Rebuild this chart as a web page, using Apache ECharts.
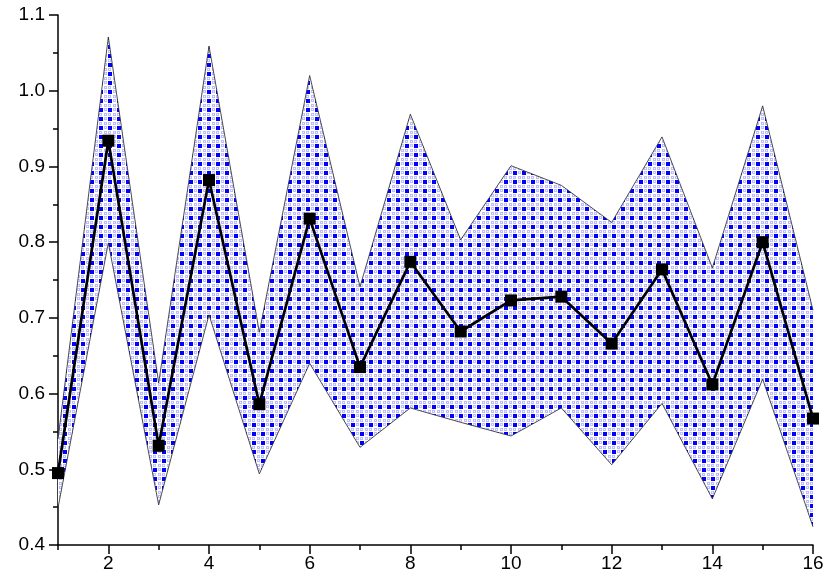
<!DOCTYPE html>
<html>
<head>
<meta charset="utf-8">
<script src="https://cdn.jsdelivr.net/npm/echarts@6/dist/echarts.min.js"></script>
<style>html,body{margin:0;padding:0;background:#fff}#c{width:830px;height:587px}</style>
</head>
<body>
<div id="c"></div>
<script>
const categories = ['1','2','3','4','5','6','7','8','9','10','11','12','13','14','15','16'];
const meanValues = [0.495, 0.934, 0.531, 0.882, 0.586, 0.831, 0.635, 0.774, 0.682, 0.723, 0.728, 0.666, 0.764, 0.612, 0.800, 0.567];
const upperValues = [0.54, 1.071, 0.614, 1.059, 0.681, 1.020, 0.741, 0.969, 0.803, 0.901, 0.875, 0.826, 0.939, 0.766, 0.980, 0.710];
const lowerValues = [0.449, 0.799, 0.453, 0.704, 0.494, 0.640, 0.529, 0.581, 0.562, 0.544, 0.581, 0.506, 0.587, 0.461, 0.619, 0.424];
const yTickLabels = ['0.4','0.5','0.6','0.7','0.8','0.9','1.0','1.1'];

// pattern tile
const tile = document.createElement('canvas');
tile.width = 9; tile.height = 9;
const g = tile.getContext('2d');
g.fillStyle = '#ffffff'; g.fillRect(0, 0, 9, 9);
g.fillStyle = '#0000ff'; g.fillRect(0, 0, 4, 4);
g.fillStyle = '#bcbcff';
function glyph(x, y) {
  g.fillRect(x, y, 3, 1); g.fillRect(x, y + 2, 3, 1);
  g.fillRect(x, y + 1, 1, 1); g.fillRect(x + 2, y + 1, 1, 1);
}
glyph(5, 0); glyph(0, 5); glyph(5, 5);

const bandValues = upperValues.map((u, i) => u - lowerValues[i]);

const chart = echarts.init(document.getElementById('c'), null, {renderer: 'canvas'});
const axisFont = {fontFamily: 'Liberation Sans, Arial, sans-serif', fontSize: 19, color: '#000'};
chart.setOption({
  animation: false,
  backgroundColor: '#fff',
  grid: {left: 58, right: 17, top: 15, bottom: 42, containLabel: false},
  xAxis: [{
    type: 'category', data: categories, boundaryGap: false,
    axisLine: {show: true, lineStyle: {color: '#000', width: 1.5}},
    axisTick: {show: true, length: 5, lineStyle: {color: '#000', width: 1.5}},
    axisLabel: {show: false},
    splitLine: {show: false}
  }, {
    type: 'category', data: categories, boundaryGap: false, position: 'bottom',
    axisLine: {show: false},
    axisTick: {show: true, length: 9, interval: (i) => i % 2 === 1, lineStyle: {color: '#000', width: 1.5}},
    axisLabel: Object.assign({show: true, interval: (i) => i % 2 === 1, margin: 9}, axisFont),
    splitLine: {show: false}
  }],
  yAxis: {
    type: 'value', min: 0.4, max: 1.1, interval: 0.1,
    axisLine: {show: true, lineStyle: {color: '#000', width: 1.5}},
    axisTick: {show: true, length: 9, lineStyle: {color: '#000', width: 1.5}},
    minorTick: {show: true, splitNumber: 2, length: 5, lineStyle: {color: '#000', width: 1.5}},
    axisLabel: Object.assign({margin: 13, formatter: (v) => {
      const idx = Math.round((v - 0.4) / 0.1);
      return yTickLabels[idx] !== undefined ? yTickLabels[idx] : '';
    }}, axisFont),
    splitLine: {show: false}
  },
  series: [
    {type: 'line', name: 'base', data: lowerValues, stack: 'band', symbol: 'none',
     lineStyle: {width: 0, opacity: 0}, silent: true, z: 1},
    {type: 'line', name: 'band', data: bandValues, stack: 'band', symbol: 'none',
     lineStyle: {width: 0, opacity: 0},
     areaStyle: {color: {image: tile, repeat: 'repeat'}, opacity: 1}, silent: true, z: 1},
    {type: 'line', name: 'upper', data: upperValues, symbol: 'none',
     lineStyle: {width: 0.8, color: '#222'}, z: 3},
    {type: 'line', name: 'lower', data: lowerValues, symbol: 'none',
     lineStyle: {width: 0.8, color: '#222'}, z: 3},
    {type: 'line', name: 'mean', data: meanValues, symbol: 'rect', symbolSize: 12,
     itemStyle: {color: '#000'}, lineStyle: {width: 2.7, color: '#000'}, z: 5}
  ]
});
</script>
</body>
</html>
